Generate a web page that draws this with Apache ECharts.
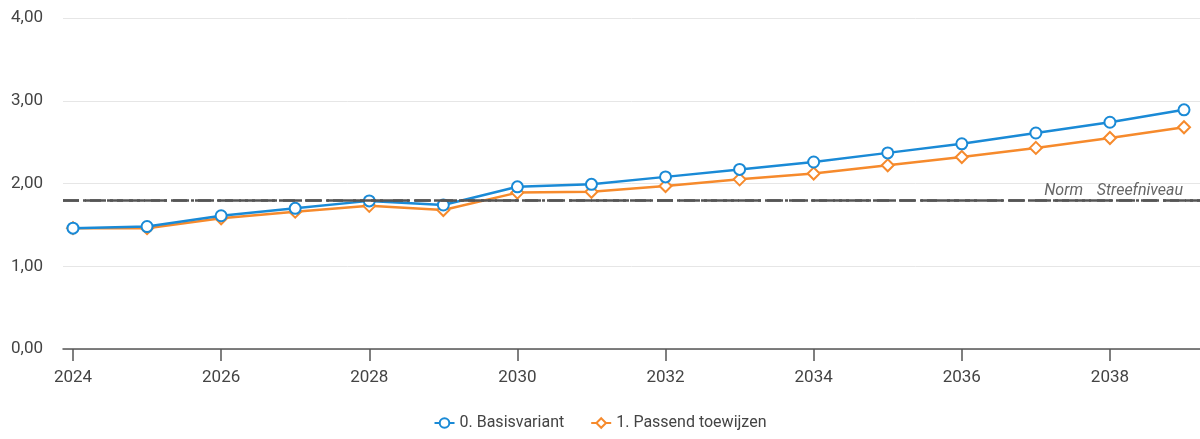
<!DOCTYPE html>
<html><head><meta charset="utf-8">
<script src="https://cdn.jsdelivr.net/npm/echarts@6/dist/echarts.min.js"></script>
<style>html,body{margin:0;padding:0;background:#fff}#c{width:1200px;height:439px}</style>
</head><body><div id="c"></div>
<script>
const years = [2024,2025,2026,2027,2028,2029,2030,2031,2032,2033,2034,2035,2036,2037,2038,2039];
const basis = [1.46,1.48,1.61,1.70,1.79,1.74,1.96,1.99,2.08,2.17,2.26,2.37,2.48,2.61,2.74,2.89];
const passend = [1.46,1.46,1.58,1.66,1.73,1.68,1.89,1.90,1.97,2.05,2.12,2.22,2.32,2.43,2.55,2.68];
const normValue = 1.80;
const streefValue = 1.80;
const xTicks = [2024,2026,2028,2030,2032,2034,2036,2038];

const chart = echarts.init(document.getElementById('c'));
const font = 'Roboto';
chart.setOption({
  animation:false,
  textStyle:{fontFamily:font},
  grid:{left:63,right:0,top:18,bottom:90,containLabel:false},
  legend:{bottom:3,left:'center',itemWidth:20,itemHeight:12,itemGap:26,
    textStyle:{fontFamily:font,fontSize:16,color:'#444'},
    data:['0. Basisvariant','1. Passend toewijzen']},
  xAxis:{type:'value',min:2023.865,max:2039.216,
    axisLine:{lineStyle:{color:'#555',width:1.5}},
    axisTick:{show:true,length:12,lineStyle:{color:'#555',width:1.5},customValues:xTicks},
    axisLabel:{customValues:xTicks,fontSize:17,color:'#444',margin:20,fontFamily:font,
      formatter:v=>String(Math.round(v))},
    splitLine:{show:false}},
  yAxis:{type:'value',min:0,max:4,interval:1,
    axisLine:{show:false},axisTick:{show:false},
    axisLabel:{fontSize:17,color:'#444',margin:20,fontFamily:font,
      formatter:v=>v.toFixed(2).replace('.',',')},
    splitLine:{lineStyle:{color:'#e6e6e6',width:1}}},
  series:[
    {name:'0. Basisvariant',type:'line',data:years.map((y,i)=>[y,basis[i]]),
     color:'#1a8ad6',symbol:'emptyCircle',symbolSize:11,lineStyle:{width:2.5},itemStyle:{borderWidth:2.5},z:3,
     markLine:{silent:true,symbol:'none',
       data:[{yAxis:normValue,name:'Norm'}],
       lineStyle:{color:'#555',type:[16,6],width:2.5},
       label:{show:true,position:'insideEndTop',formatter:'Norm',offset:[-112,4],
         color:'#666',fontStyle:'italic',fontSize:16,fontFamily:font}}},
    {name:'1. Passend toewijzen',type:'line',data:years.map((y,i)=>[y,passend[i]]),
     color:'#f68a2c',symbol:'emptyDiamond',symbolSize:12,lineStyle:{width:2.5},itemStyle:{borderWidth:2.5},z:2,
     markLine:{silent:true,symbol:'none',
       data:[{yAxis:streefValue,name:'Streefniveau'}],
       lineStyle:{color:'#555',type:[16,4,3,4],width:2.5},
       label:{show:true,position:'insideEndTop',formatter:'Streefniveau',offset:[-12,4],
         color:'#666',fontStyle:'italic',fontSize:16,fontFamily:font}}}
  ]
});
</script></body></html>
